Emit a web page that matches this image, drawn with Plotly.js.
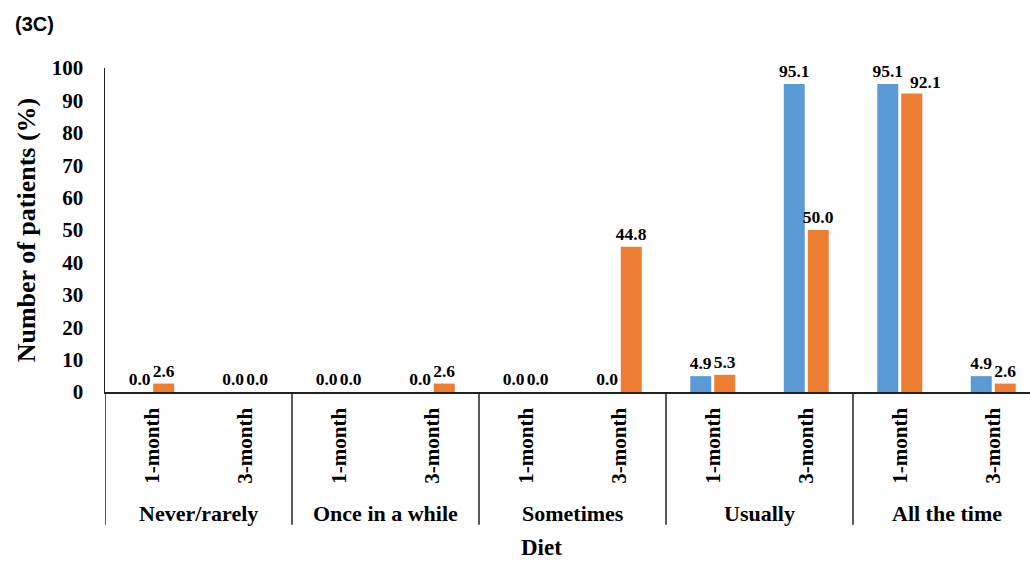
<!DOCTYPE html>
<html>
<head>
<meta charset="utf-8">
<script src="https://cdn.plot.ly/plotly-3.0.1.min.js"></script>
<style>html,body{margin:0;padding:0;background:#fff;}#chart{width:1030px;height:563px;}</style>
</head>
<body>
<div id="chart"></div>
<script>
const groups = ["Never/rarely", "Once in a while", "Sometimes", "Usually", "All the time"];
const periods = ["1-month", "3-month"];
const seriesA = [0.0, 0.0, 0.0, 0.0, 0.0, 0.0, 4.9, 95.1, 95.1, 4.9];
const seriesB = [2.6, 0.0, 0.0, 2.6, 0.0, 44.8, 5.3, 50.0, 92.1, 2.6];
const yTicks = [0, 10, 20, 30, 40, 50, 60, 70, 80, 90, 100];

const xs = [];
const subLabels = [];
groups.forEach((g, gi) => periods.forEach((p, pi) => { xs.push(gi * periods.length + pi); subLabels.push(p); }));

const serif = "Liberation Serif, Times New Roman, serif";
const lbl = {family: serif, size: 17.5, color: "#000", weight: "bold"};

// the orange label of "All the time / 1-month" sits slightly to the right in the reference
const shiftIdx = groups.indexOf("All the time") * periods.length + periods.indexOf("1-month");
const textA = seriesA.map(v => v.toFixed(1));
const textB = seriesB.map((v, i) => i === shiftIdx ? "" : v.toFixed(1));

const traces = [
  {type: "bar", x: xs, y: seriesA, marker: {color: "#5B9BD5"}, text: textA, texttemplate: "%{text}",
   textposition: "outside", textfont: lbl, cliponaxis: false, constraintext: "none", hoverinfo: "skip"},
  {type: "bar", x: xs, y: seriesB, marker: {color: "#ED7D31"}, text: textB, texttemplate: "%{text}",
   textposition: "outside", textfont: lbl, cliponaxis: false, constraintext: "none", hoverinfo: "skip"}
];

const shapes = [];
const annotations = [];
for (let gi = 0; gi <= groups.length; gi++) {
  const xb = gi * periods.length - 0.5;
  shapes.push({type: "line", xref: "x", yref: "paper", x0: xb, x1: xb, y0: 0, y1: -0.41,
               line: {color: "#222", width: 1.5}});
}
groups.forEach((g, gi) => {
  annotations.push({xref: "x", yref: "paper", x: gi * periods.length + 0.5, y: -0.375, text: g,
    showarrow: false, font: {family: serif, size: 22, color: "#000", weight: "bold"}, yanchor: "middle"});
});
annotations.push({xref: "x", yref: "y", x: xs[shiftIdx], y: seriesB[shiftIdx], text: seriesB[shiftIdx].toFixed(1),
  showarrow: false, xshift: 26, yshift: 0, yanchor: "bottom", font: lbl});
annotations.push({xref: "paper", yref: "paper", x: 0.472, y: -0.48, text: "Diet", showarrow: false,
  font: {family: serif, size: 23, color: "#000", weight: "bold"}, yanchor: "middle"});
annotations.push({xref: "paper", yref: "paper", x: -0.1, xanchor: "left", y: 1.135, yanchor: "middle",
  text: "(3C)", showarrow: false, font: {family: "Liberation Sans, Arial, sans-serif", size: 20, color: "#000", weight: "bold"}});

const layout = {
  width: 1030, height: 563,
  margin: {l: 105, r: 0, t: 68, b: 171},
  paper_bgcolor: "#fff", plot_bgcolor: "#fff",
  showlegend: false,
  barmode: "group", bargap: 0.487, bargroupgap: 0.125,
  xaxis: {range: [-0.5, 9.393], tickmode: "array", tickvals: xs, ticktext: subLabels, tickangle: -90,
          showgrid: false, zeroline: false, showline: true, linecolor: "#222", linewidth: 1.5,
          ticks: "", tickfont: {family: serif, size: 21, color: "#000", weight: "bold"}, ticklabelstandoff: 6,
          automargin: false, fixedrange: true},
  yaxis: {range: [0, 100], tickmode: "array", tickvals: yTicks, showgrid: false, zeroline: false,
          showline: true, linecolor: "#222", linewidth: 1.5, ticks: "",
          tickfont: {family: serif, size: 21, color: "#000", weight: "bold"}, ticklabelstandoff: 16,
          title: {text: "Number of patients (%)", standoff: 8, font: {family: serif, size: 26, color: "#000", weight: "bold"}},
          automargin: false, fixedrange: true},
  shapes: shapes, annotations: annotations
};

Plotly.newPlot("chart", traces, layout, {displayModeBar: false, staticPlot: true});
</script>
</body>
</html>
